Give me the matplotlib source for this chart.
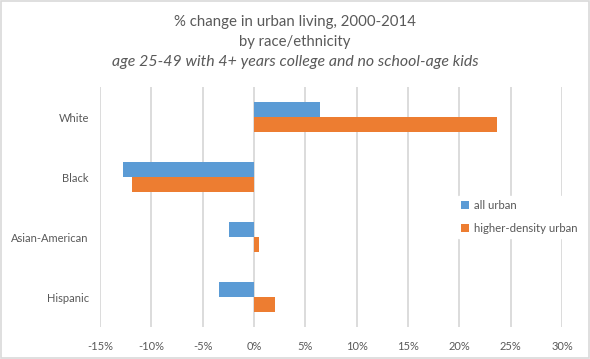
import matplotlib
matplotlib.use("Agg")
import matplotlib.pyplot as plt
from matplotlib.patches import Rectangle
from matplotlib.ticker import FuncFormatter

# data
categories = ["White", "Black", "Asian-American", "Hispanic"]
all_urban = [6.4, -12.8, -2.4, -3.4]
higher_density = [23.7, -11.9, 0.5, 2.0]
series_names = ["all urban", "higher-density urban"]

BLUE = "#5B9BD5"
ORANGE = "#ED7D31"
GREY = "#595959"

plt.rcParams["font.family"] = ["Lato", "DejaVu Sans"]

fig = plt.figure(figsize=(5.9, 3.59), dpi=100)
ax = fig.add_axes([100 / 590, 1 - 327 / 359, 462 / 590, 240 / 359])

y = list(range(len(categories)))
h = 0.25
ax.barh([i - h / 2 for i in y], all_urban, height=h, color=BLUE, label=series_names[0], zorder=3)
ax.barh([i + h / 2 for i in y], higher_density, height=h, color=ORANGE, label=series_names[1], zorder=3)

ax.set_ylim(3.5, -0.5)
ax.set_xlim(-15, 30)
ax.set_xticks(range(-15, 31, 5))
ax.xaxis.set_major_formatter(FuncFormatter(lambda v, p: f"{v:.0f}%"))
ax.set_yticks(y)
ax.set_yticklabels(categories)
ax.tick_params(length=0, colors=GREY, labelsize=8)
ax.tick_params(axis="y", pad=8)
ax.tick_params(axis="x", pad=10)
ax.grid(axis="x", color="#D9D9D9", linewidth=1.3, zorder=0)
for s in ax.spines.values():
    s.set_visible(False)

# titles, sized so their widths match the original (in pixels)
renderer = fig.canvas.get_renderer()
titles = [
    ("% change in urban living, 2000-2014", 22, "normal", 241),
    ("by race/ethnicity", 42, "normal", 112),
    ("age 25-49 with 4+ years college and no school-age kids", 62, "italic", 367),
]
for txt, ypx, style, width in titles:
    t = fig.text(0.5, 1 - ypx / 359, txt, ha="center", va="center",
                 fontsize=10, color=GREY, style=style)
    w = t.get_window_extent(renderer).width
    t.set_fontsize(10 * width / w)

leg = fig.legend(loc="center left", bbox_to_anchor=(452 / 590, 1 - 217 / 359), frameon=True,
                 fontsize=8.2, handlelength=0.7, handleheight=0.7, handletextpad=0.4,
                 labelspacing=1.1, borderpad=0.3, edgecolor="white", facecolor="white",
                 framealpha=1, fancybox=False)
for t in leg.get_texts():
    t.set_color(GREY)

# chart border
fig.patches.append(Rectangle((0.001, 0.002), 0.997, 0.995, transform=fig.transFigure,
                             fill=False, edgecolor="#D9D9D9", linewidth=1.2))

fig.savefig("out.png", dpi=100)
